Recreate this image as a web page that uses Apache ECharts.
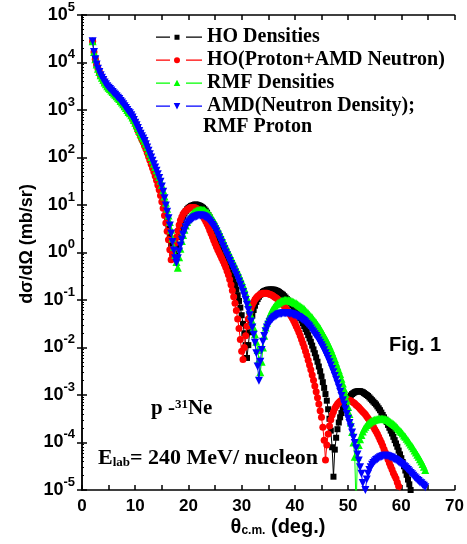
<!DOCTYPE html>
<html>
<head>
<meta charset="utf-8">
<script src="https://cdn.jsdelivr.net/npm/echarts@6/dist/echarts.min.js"></script>
<style>
html,body{margin:0;padding:0;background:#fff;}
#chart{width:467px;height:544px;}
</style>
</head>
<body>
<div id="chart"></div>
<script>
// Scattering angle theta_c.m. (deg.)
const angles = [
2,2.25,2.5,2.75, 3,3.25,3.5,3.75, 4,4.25,4.5,4.75, 5,5.25,5.5,5.75, 6,6.25,6.5,6.75,
7,7.25,7.5,7.75, 8,8.25,8.5,8.75, 9,9.25,9.5,9.75, 10,10.25,10.5,10.75, 11,11.25,11.5,11.75,
12,12.25,12.5,12.75, 13,13.25,13.5,13.75, 14,14.25,14.5,14.75, 15,15.25,15.5,15.75,
16,16.25,16.5,16.75, 17,17.25,17.5,17.75, 18,18.25,18.5,18.75, 19,19.25,19.5,19.75,
20,20.25,20.5,20.75, 21,21.25,21.5,21.75, 22,22.25,22.5,22.75, 23,23.25,23.5,23.75,
24,24.25,24.5,24.75, 25,25.25,25.5,25.75, 26,26.25,26.5,26.75, 27,27.25,27.5,27.75,
28,28.25,28.5,28.75, 29,29.25,29.5,29.75, 30,30.25,30.5,30.75, 31,31.25,31.5,31.75,
32,32.25,32.5,32.75, 33,33.25,33.5,33.75, 34,34.25,34.5,34.75, 35,35.25,35.5,35.75,
36,36.25,36.5,36.75, 37,37.25,37.5,37.75, 38,38.25,38.5,38.75, 39,39.25,39.5,39.75,
40,40.25,40.5,40.75, 41,41.25,41.5,41.75, 42,42.25,42.5,42.75, 43,43.25,43.5,43.75,
44,44.25,44.5,44.75, 45,45.25,45.5,45.75, 46,46.25,46.5,46.75, 47,47.25,47.5,47.75,
48,48.25,48.5,48.75, 49,49.25,49.5,49.75, 50,50.25,50.5,50.75, 51,51.25,51.5,51.75,
52,52.25,52.5,52.75, 53,53.25,53.5,53.75, 54,54.25,54.5,54.75, 55,55.25,55.5,55.75,
56,56.25,56.5,56.75, 57,57.25,57.5,57.75, 58,58.25,58.5,58.75, 59,59.25,59.5,59.75,
60,60.25,60.5,60.75, 61,61.25,61.5,61.75, 62,62.25,62.5,62.75, 63,63.25,63.5,63.75,
64,64.25,64.5,64.75
];

// log10 of dσ/dΩ (mb/sr), one value per angle above
const hoDensitiesLog = [
4.45,4.22,4.07,3.96, 3.87,3.80,3.73,3.68, 3.63,3.58,3.54,3.50, 3.47,3.44,3.41,3.38,
3.35,3.32,3.29,3.26, 3.23,3.19,3.16,3.12, 3.08,3.04,3.00,2.96, 2.93,2.89,2.84,2.79,
2.73,2.68,2.62,2.56, 2.50,2.45,2.40,2.34, 2.26,2.18,2.10,2.03, 1.95,1.88,1.80,1.73,
1.65,1.57,1.48,1.38, 1.28,1.16,1.02,0.88, 0.73,0.56,0.38,0.18, -0.02,-0.10,0.00,0.15,
0.32,0.46,0.58,0.68, 0.76,0.82,0.87,0.91, 0.94,0.96,0.98,0.99, 1.00,1.01,1.01,1.00,
0.99,0.98,0.96,0.94, 0.91,0.88,0.84,0.79, 0.74,0.68,0.62,0.55, 0.48,0.41,0.34,0.27,
0.20,0.13,0.06,-0.01, -0.08,-0.15,-0.23,-0.31, -0.39,-0.48,-0.57,-0.67, -0.78,-0.90,-1.02,-1.16,
-1.32,-1.50,-1.70,-1.95, -2.22,-1.95,-1.68,-1.48, -1.33,-1.21,-1.12,-1.04, -0.98,-0.93,-0.89,-0.86,
-0.83,-0.81,-0.80,-0.79, -0.78,-0.78,-0.78,-0.78, -0.78,-0.79,-0.80,-0.81, -0.83,-0.85,-0.87,-0.89,
-0.92,-0.95,-0.98,-1.01, -1.04,-1.07,-1.11,-1.15, -1.19,-1.23,-1.28,-1.33, -1.38,-1.43,-1.49,-1.55,
-1.61,-1.67,-1.74,-1.81, -1.88,-1.96,-2.04,-2.12, -2.21,-2.30,-2.40,-2.50, -2.61,-2.73,-2.85,-2.98,
-3.12,-3.30,-3.50,-3.75, -4.10,-4.72,-4.15,-3.90, -3.72,-3.58,-3.47,-3.38, -3.30,-3.24,-3.18,-3.13,
-3.08,-3.04,-3.01,-2.98, -2.96,-2.94,-2.93,-2.92, -2.92,-2.92,-2.93,-2.94, -2.96,-2.98,-3.00,-3.02,
-3.05,-3.08,-3.11,-3.14, -3.17,-3.20,-3.24,-3.28, -3.32,-3.37,-3.42,-3.47, -3.52,-3.57,-3.63,-3.69,
-3.75,-3.81,-3.88,-3.95, -4.02,-4.09,-4.17,-4.25, -4.33,-4.41,-4.50,-4.59, -4.68,-4.78,-4.88,-5.00,
-5.12
];

const hoAmdNeutronLog = [
4.45,4.22,4.07,3.96, 3.87,3.80,3.73,3.68, 3.63,3.58,3.54,3.50, 3.47,3.44,3.41,3.38,
3.35,3.32,3.29,3.26, 3.23,3.19,3.16,3.12, 3.08,3.04,3.00,2.96, 2.92,2.88,2.83,2.77,
2.71,2.64,2.57,2.51, 2.44,2.38,2.32,2.25, 2.18,2.10,2.02,1.94, 1.86,1.78,1.70,1.61,
1.52,1.42,1.32,1.20, 1.07,0.93,0.78,0.62, 0.45,0.27,0.06,-0.15, -0.05,0.08,0.20,0.32,
0.46,0.58,0.68,0.75, 0.81,0.85,0.88,0.90, 0.92,0.94,0.95,0.95, 0.95,0.94,0.93,0.91,
0.88,0.84,0.80,0.76, 0.71,0.66,0.60,0.54, 0.47,0.40,0.33,0.26, 0.19,0.12,0.06,0.00,
-0.06,-0.12,-0.18,-0.24, -0.31,-0.39,-0.47,-0.57, -0.68,-0.80,-0.93,-1.07, -1.22,-1.40,-1.60,-1.83,
-2.08,-2.25,-2.00,-1.75, -1.55,-1.40,-1.28,-1.18, -1.10,-1.04,-0.99,-0.95, -0.92,-0.90,-0.88,-0.87,
-0.86,-0.86,-0.86,-0.86, -0.87,-0.88,-0.89,-0.90, -0.92,-0.94,-0.96,-0.98, -1.01,-1.04,-1.07,-1.10,
-1.13,-1.17,-1.21,-1.25, -1.29,-1.33,-1.38,-1.43, -1.49,-1.55,-1.61,-1.68, -1.75,-1.83,-1.91,-1.99,
-2.08,-2.17,-2.27,-2.37, -2.47,-2.58,-2.69,-2.81, -2.93,-3.06,-3.19,-3.33, -3.47,-3.68,-3.95,-4.37,
-4.05,-3.82,-3.65,-3.52, -3.42,-3.35,-3.28,-3.23, -3.19,-3.16,-3.13,-3.11, -3.10,-3.09,-3.09,-3.09,
-3.10,-3.11,-3.12,-3.14, -3.16,-3.18,-3.21,-3.23, -3.26,-3.29,-3.32,-3.35, -3.38,-3.41,-3.45,-3.49,
-3.53,-3.57,-3.62,-3.67, -3.72,-3.77,-3.82,-3.88, -3.94,-4.00,-4.07,-4.14, -4.21,-4.28,-4.36,-4.43,
-4.50,-4.57,-4.64,-4.70, -4.76,-4.84,-4.92,-5.02, -5.12
];

const rmfDensitiesLog = [
4.45,4.22,4.07,3.96, 3.87,3.80,3.73,3.68, 3.63,3.58,3.54,3.50, 3.47,3.44,3.41,3.38,
3.35,3.32,3.29,3.26, 3.23,3.19,3.16,3.12, 3.08,3.04,3.00,2.96, 2.93,2.89,2.84,2.79,
2.73,2.68,2.62,2.56, 2.50,2.45,2.40,2.35, 2.29,2.22,2.15,2.08, 2.01,1.94,1.87,1.80,
1.73,1.66,1.59,1.51, 1.42,1.31,1.18,1.05, 0.92,0.78,0.64,0.48, 0.30,0.12,-0.05,-0.20,
-0.32,-0.10,0.08,0.24, 0.37,0.48,0.57,0.64, 0.70,0.75,0.79,0.82, 0.85,0.87,0.88,0.89,
0.90,0.90,0.90,0.90, 0.89,0.87,0.85,0.83, 0.80,0.76,0.72,0.67, 0.62,0.57,0.51,0.45,
0.39,0.33,0.27,0.20, 0.14,0.08,0.02,-0.04, -0.10,-0.16,-0.22,-0.28, -0.34,-0.40,-0.47,-0.53,
-0.60,-0.68,-0.76,-0.85, -0.95,-1.07,-1.20,-1.32, -1.45,-1.58,-1.72,-1.88, -2.05,-2.25,-2.52,-2.30,
-2.00,-1.75,-1.58,-1.48, -1.40,-1.32,-1.26,-1.20, -1.16,-1.12,-1.09,-1.07, -1.05,-1.03,-1.02,-1.01,
-1.00,-1.00,-1.00,-1.00, -1.01,-1.02,-1.03,-1.04, -1.06,-1.07,-1.09,-1.11, -1.13,-1.15,-1.17,-1.19,
-1.22,-1.25,-1.28,-1.31, -1.34,-1.37,-1.41,-1.44, -1.48,-1.52,-1.56,-1.60, -1.65,-1.70,-1.75,-1.80,
-1.85,-1.91,-1.97,-2.03, -2.10,-2.17,-2.24,-2.32, -2.40,-2.48,-2.56,-2.66, -2.76,-2.87,-2.98,-3.11,
-3.25,-3.40,-3.58,-3.78, -4.00,-4.30,-5.40,-4.30, -4.05,-3.93,-3.84,-3.77, -3.71,-3.67,-3.63,-3.60,
-3.58,-3.56,-3.54,-3.53, -3.52,-3.51,-3.51,-3.50, -3.50,-3.50,-3.50,-3.50, -3.51,-3.52,-3.53,-3.55,
-3.57,-3.59,-3.61,-3.63, -3.66,-3.69,-3.72,-3.75, -3.78,-3.81,-3.85,-3.88, -3.92,-3.96,-4.00,-4.04,
-4.08,-4.12,-4.17,-4.21, -4.26,-4.30,-4.35,-4.40, -4.45,-4.51,-4.58
];

const amdRmfProtonLog = [
4.45,4.22,4.07,3.96, 3.87,3.80,3.73,3.68, 3.63,3.58,3.54,3.50, 3.47,3.44,3.41,3.38,
3.35,3.32,3.29,3.26, 3.23,3.19,3.16,3.12, 3.08,3.04,3.00,2.96, 2.93,2.89,2.84,2.79,
2.73,2.68,2.62,2.56, 2.50,2.45,2.40,2.35, 2.28,2.21,2.14,2.07, 2.00,1.93,1.86,1.79,
1.72,1.65,1.57,1.49, 1.39,1.28,1.14,0.99, 0.86,0.72,0.57,0.40, 0.22,0.04,-0.12,-0.22,
-0.12,0.02,0.15,0.27, 0.38,0.46,0.53,0.59, 0.63,0.66,0.69,0.71, 0.73,0.75,0.76,0.77,
0.78,0.78,0.78,0.77, 0.76,0.74,0.72,0.69, 0.66,0.62,0.58,0.54, 0.49,0.44,0.38,0.32,
0.26,0.20,0.13,0.07, 0.00,-0.06,-0.12,-0.18, -0.24,-0.30,-0.36,-0.42, -0.48,-0.54,-0.61,-0.68,
-0.75,-0.83,-0.91,-1.00, -1.10,-1.21,-1.32,-1.45, -1.58,-1.73,-1.90,-2.12, -2.40,-2.70,-2.30,-2.05,
-1.88,-1.76,-1.66,-1.58, -1.52,-1.47,-1.43,-1.40, -1.37,-1.35,-1.33,-1.31, -1.30,-1.29,-1.29,-1.28,
-1.28,-1.28,-1.28,-1.28, -1.29,-1.29,-1.30,-1.31, -1.32,-1.33,-1.35,-1.36, -1.38,-1.40,-1.42,-1.44,
-1.47,-1.50,-1.53,-1.56, -1.60,-1.64,-1.68,-1.72, -1.76,-1.80,-1.85,-1.90, -1.95,-2.00,-2.06,-2.12,
-2.18,-2.24,-2.31,-2.38, -2.45,-2.52,-2.60,-2.68, -2.76,-2.84,-2.93,-3.02, -3.11,-3.20,-3.30,-3.40,
-3.50,-3.59,-3.68,-3.79, -3.90,-4.01,-4.12,-4.25, -4.38,-4.52,-4.66,-4.85, -5.35,-5.00,-4.78,-4.66,
-4.58,-4.52,-4.47,-4.43, -4.40,-4.37,-4.35,-4.33, -4.31,-4.30,-4.29,-4.28, -4.28,-4.28,-4.29,-4.30,
-4.31,-4.32,-4.34,-4.35, -4.37,-4.39,-4.41,-4.43, -4.45,-4.47,-4.50,-4.52, -4.55,-4.58,-4.61,-4.64,
-4.67,-4.70,-4.73,-4.76, -4.79,-4.81,-4.84,-4.86, -4.89,-4.91,-4.94
];

const seriesNames = ['HO Densities', 'HO(Proton+AMD Neutron)', 'RMF Densities', 'AMD(Neutron Density); RMF Proton'];
const xTicks = [0, 10, 20, 30, 40, 50, 60, 70];
const yDecades = [-5, -4, -3, -2, -1, 0, 1, 2, 3, 4, 5];

const SANS = "'Liberation Sans', Arial, sans-serif";
const SERIF = "'Liberation Serif', 'Times New Roman', serif";

function toPoints(logs) {
  return logs.map((v, i) => [angles[i], Math.pow(10, v)]);
}

// legend icons: "— marker —" drawn in a 46 x 9 box
const BOX = 'M0,0h0.01v0.01h-0.01z M45.99,8.99h0.01v0.01h-0.01z ';
const BARS = 'M0,4h14v1.3h-14z M30,4h16v1.3h-16z ';
const legendIcons = [
  'path://' + BOX + BARS + 'M18.5,2.2h5v5h-5z',
  'path://' + BOX + BARS + 'M24,4.7A3,3,0,1,1,18,4.7A3,3,0,1,1,24,4.7z',
  'path://' + BOX + BARS + 'M21,1.2L24.3,7.6L17.7,7.6z',
  'path://' + BOX + BARS + 'M17.7,1.6L24.3,1.6L21,8z'
];

const styles = [
  {color: '#000000', symbol: 'rect', size: 6, rotate: 0},
  {color: '#ff0000', symbol: 'circle', size: 7, rotate: 0},
  {color: '#00ff00', symbol: 'triangle', size: 8, rotate: 0},
  {color: '#0000ff', symbol: 'triangle', size: 8, rotate: 180}
];
const logsList = [hoDensitiesLog, hoAmdNeutronLog, rmfDensitiesLog, amdRmfProtonLog];

const series = logsList.map((logs, k) => ({
  name: seriesNames[k],
  type: 'line',
  data: toPoints(logs),
  xAxisIndex: 0,
  yAxisIndex: 0,
  symbol: styles[k].symbol,
  symbolSize: styles[k].size,
  symbolRotate: styles[k].rotate,
  showAllSymbol: true,
  clip: true,
  itemStyle: {color: styles[k].color},
  lineStyle: {color: styles[k].color, width: 1},
  animation: false,
  z: 2 + k
}));

const chart = echarts.init(document.getElementById('chart'), null, {renderer: 'canvas'});

const axisLineStyle = {show: true, lineStyle: {color: '#000', width: 1.5}};

chart.setOption({
  backgroundColor: '#fff',
  animation: false,
  grid: {left: 82, right: 12, top: 13.5, bottom: 54, containLabel: false},
  legend: {
    data: seriesNames.map((n, k) => ({name: n, icon: legendIcons[k]})),
    orient: 'vertical',
    left: 151,
    top: 22,
    itemWidth: 46,
    itemHeight: 9,
    itemGap: 3,
    selectedMode: false,
    formatter: name => name.split(';')[0] + (name.indexOf(';') >= 0 ? ';' : ''),
    textStyle: {fontFamily: SERIF, fontWeight: 'bold', fontSize: 20, color: '#000', lineHeight: 20}
  },
  xAxis: [
    {
      type: 'value', min: 0, max: 70, interval: 10, position: 'bottom',
      axisLine: axisLineStyle,
      axisTick: {show: true, inside: true, length: 5, lineStyle: {color: '#000', width: 1.5}},
      minorTick: {show: true, splitNumber: 2, length: 5, lineStyle: {color: '#000', width: 1.5}},
      splitLine: {show: false},
      axisLabel: {show: true, margin: 8, color: '#000', fontFamily: SANS, fontWeight: 'bold', fontSize: 17,
        formatter: v => (xTicks.indexOf(v) >= 0 ? String(v) : '')}
    },
    {
      type: 'value', min: 0, max: 70, interval: 10, position: 'top',
      axisLine: axisLineStyle,
      axisTick: {show: true, inside: true, length: 5, lineStyle: {color: '#000', width: 1.5}},
      minorTick: {show: true, splitNumber: 2, length: 5, lineStyle: {color: '#000', width: 1.5}},
      splitLine: {show: false},
      axisLabel: {show: false}
    }
  ],
  yAxis: [
    {
      type: 'log', logBase: 10, min: 1e-5, max: 1e5, interval: 1, splitNumber: 10, position: 'left',
      axisLine: axisLineStyle,
      axisTick: {show: true, inside: true, length: 5, lineStyle: {color: '#000', width: 1.5}},
      minorTick: {show: true, splitNumber: 9, length: 2, lineStyle: {color: '#000', width: 1}},
      splitLine: {show: false},
      axisLabel: {
        show: true, margin: 7, color: '#000',
        formatter: v => {
          const e = Math.round(Math.log10(v));
          return yDecades.indexOf(e) >= 0 ? '{b|10}{s|' + e + '}' : '';
        },
        rich: {
          b: {fontFamily: SANS, fontWeight: 'bold', fontSize: 18, lineHeight: 18, padding: [6, 0, 6, 0], color: '#000'},
          s: {fontFamily: SANS, fontWeight: 'bold', fontSize: 13, lineHeight: 13, padding: [0, 0, 16, 0], color: '#000'}
        }
      }
    },
    {
      type: 'log', logBase: 10, min: 1e-5, max: 1e5, interval: 1, splitNumber: 10, position: 'right',
      axisLine: axisLineStyle,
      axisTick: {show: true, inside: true, length: 5, lineStyle: {color: '#000', width: 1.5}},
      minorTick: {show: false},
      splitLine: {show: false},
      axisLabel: {show: false}
    }
  ],
  series: series,
  graphic: [
    {
      type: 'text', x: 203, y: 127,
      style: {text: 'RMF Proton', font: 'bold 20px ' + SERIF, fill: '#000', verticalAlign: 'middle'}
    },
    {
      type: 'text', x: 27, y: 244, rotation: Math.PI / 2,
      style: {text: 'dσ/dΩ (mb/sr)', font: 'bold 18px ' + SANS, fill: '#000', align: 'center', verticalAlign: 'middle'}
    },
    {
      type: 'text', x: 278, y: 527,
      style: {
        text: '{t|θ}{c|c.m.}{t| (deg.)}', align: 'center', verticalAlign: 'middle',
        rich: {
          t: {font: 'bold 20px ' + SANS, fill: '#000', lineHeight: 20, padding: [0, 0, 6, 0], verticalAlign: 'top'},
          c: {font: 'bold 12px ' + SANS, fill: '#000', lineHeight: 12, verticalAlign: 'bottom'}
        }
      }
    },
    {
      type: 'text', x: 389, y: 345,
      style: {text: 'Fig. 1', font: 'bold 20px ' + SANS, fill: '#000', verticalAlign: 'middle'}
    },
    {
      type: 'text', x: 151, y: 409,
      style: {
        text: '{t|p -}{s|31}{t|Ne}', verticalAlign: 'middle',
        rich: {
          t: {font: 'bold 21px ' + SERIF, fill: '#000', lineHeight: 21, padding: [6, 0, 0, 0], verticalAlign: 'bottom'},
          s: {font: 'bold 13px ' + SERIF, fill: '#000', lineHeight: 13, verticalAlign: 'top'}
        }
      }
    },
    {
      type: 'text', x: 98, y: 458,
      style: {
        text: '{t|E}{l|lab}{t|= 240 MeV/ nucleon}', verticalAlign: 'middle',
        rich: {
          t: {font: 'bold 22px ' + SERIF, fill: '#000', lineHeight: 22, padding: [0, 0, 6, 0], verticalAlign: 'top'},
          l: {font: 'bold 13px ' + SERIF, fill: '#000', lineHeight: 13, verticalAlign: 'bottom'}
        }
      }
    }
  ]
});
</script>
</body>
</html>
